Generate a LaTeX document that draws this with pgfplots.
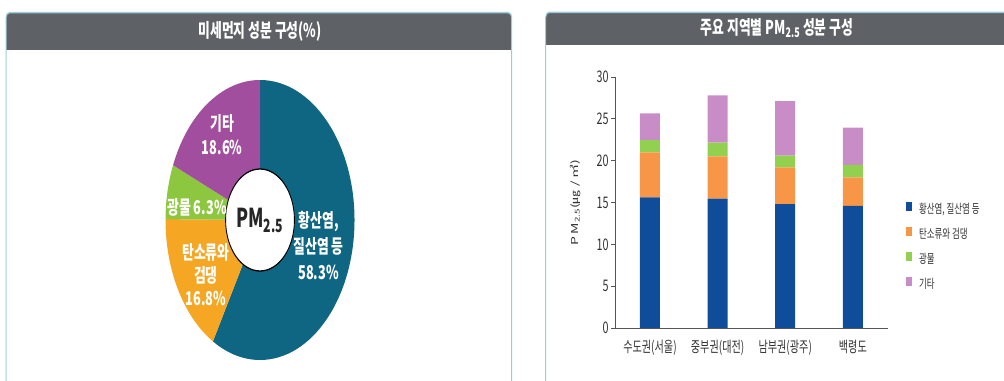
\documentclass[border=0pt]{standalone}
\usepackage{pgfplots}
\pgfplotsset{compat=1.18}
\usepackage{fontspec}
\setmainfont{Noto Sans CJK KR}
\definecolor{hdr}{HTML}{5E6266}
\definecolor{bord}{HTML}{9FCBD8}
\definecolor{dteal}{HTML}{0E6682}
\definecolor{dorange}{HTML}{F5A623}
\definecolor{dgreen}{HTML}{8DC63F}
\definecolor{dpurple}{HTML}{A24E9E}
\definecolor{bblue}{HTML}{0F4C9A}
\definecolor{borange}{HTML}{F79646}
\definecolor{bgreen}{HTML}{92D050}
\definecolor{bpurple}{HTML}{C88DC7}
\definecolor{axgray}{HTML}{555555}
\definecolor{txt}{HTML}{333333}
\begin{document}
\begin{tikzpicture}
\path[use as bounding box] (0,0) rectangle (1004bp,381bp);
% donut shares (percent)
\def\vA{58.3}\def\vB{16.8}\def\vC{6.3}\def\vD{18.6}
\pgfmathsetmacro\aA{90}
\pgfmathsetmacro\aB{\aA-3.6*\vA}
\pgfmathsetmacro\aC{\aB-3.6*\vB}
\pgfmathsetmacro\aD{\aC-3.6*\vC}
\pgfmathsetmacro\aE{\aD-3.6*\vD}
\begin{scope}[transform canvas={xscale=0.675}]
% ---- left panel
\fill[hdr, rounded corners=5bp] (8.9bp,331bp) rectangle (758.1bp,368.3bp);
\fill[hdr] (8.9bp,331bp) rectangle (758.1bp,345bp);
\draw[bord, line width=1.5bp, rounded corners=5bp] (8.9bp,-10bp) -- (8.9bp,368.3bp) -- (758.1bp,368.3bp) -- (758.1bp,-10bp);
\node[text=white, font=\bfseries\fontsize{19bp}{22bp}\selectfont] at (385.2bp,350bp) {미세먼지 성분 구성(\%)};
% ---- right panel
\fill[hdr, rounded corners=5bp] (808.4bp,336bp) rectangle (1520bp,368.7bp);
\fill[hdr] (808.4bp,336bp) rectangle (1520bp,350bp);
\draw[bord, line width=1.5bp, rounded corners=5bp] (808.4bp,-10bp) -- (808.4bp,368.7bp) -- (1520bp,368.7bp);
\node[text=white, font=\bfseries\fontsize{19bp}{22bp}\selectfont] at (1151bp,352.5bp) {주요 지역별 PM\textsubscript{2.5} 성분 구성};

% ---- donut
\begin{axis}[at={(385.2bp,161bp)}, anchor=origin, x=140bp, y=140bp,
  xmin=-1.1, xmax=1.1, ymin=-1.1, ymax=1.1, hide axis, clip=false]
\fill[dteal] (axis cs:0,0) -- ++(\aA:140bp) arc[start angle=\aA, end angle=\aB, radius=140bp] -- cycle;
\fill[dorange] (axis cs:0,0) -- ++(\aB:140bp) arc[start angle=\aB, end angle=\aC, radius=140bp] -- cycle;
\fill[dgreen] (axis cs:0,0) -- ++(\aC:140bp) arc[start angle=\aC, end angle=\aD, radius=140bp] -- cycle;
\fill[dpurple] (axis cs:0,0) -- ++(\aD:140bp) arc[start angle=\aD, end angle=\aE, radius=140bp] -- cycle;
\draw[black, line width=1.3bp, fill=white] (axis cs:0,0) circle[radius=51bp];
\node[text=black!85, font=\bfseries\fontsize{26bp}{28bp}\selectfont] at (axis cs:0,0) {PM\textsubscript{2.5}};
\node[text=white, font=\bfseries\fontsize{19bp}{24bp}\selectfont, align=center] at (axis cs:-0.40,0.61) {기타\\18.6\%};
\node[text=white, font=\bfseries\fontsize{19bp}{24bp}\selectfont] at (axis cs:-0.666,0.093) {광물 6.3\%};
\node[text=white, font=\bfseries\fontsize{19bp}{23bp}\selectfont, align=center] at (axis cs:-0.573,-0.393) {탄소류와\\검댕\\16.8\%};
\node[text=white, font=\bfseries\fontsize{19bp}{26bp}\selectfont, align=center] at (axis cs:0.62,-0.18) {황산염,\\질산염 등\\58.3\%};
\end{axis}

% ---- stacked bars
\begin{axis}[at={(962.9bp,53bp)}, anchor=origin,
  x=100.2bp, y=8.367bp,
  xmin=-0.516, xmax=3.52, ymin=0, ymax=30,
  ybar stacked, bar width=29.6bp,
  axis x line*=bottom, axis y line*=left,
  axis line style={draw=axgray, line width=0.8bp},
  xtick={0,1,2,3},
  xticklabels={수도권(서울),중부권(대전),남부권(광주),백령도},
  xtick style={draw=none},
  xticklabel style={font=\fontsize{15bp}{17bp}\selectfont, text=txt, yshift=-3bp},
  ytick={0,5,...,30},
  tick align=outside, major tick length=6bp,
  ytick style={draw=axgray, line width=0.8bp},
  yticklabel style={font=\fontsize{16bp}{18bp}\selectfont, text=txt},
  /pgf/number format/assume math mode=true,
  ylabel={P\,M\textsubscript{2.5}(㎍ / ㎥)},
  ylabel style={at={(axis description cs:-0.146,0.5)}, anchor=center, font=\fontsize{14bp}{16bp}\selectfont, text=txt},
  legend style={draw=none, fill=none, at={(axis description cs:1.058,0.51)}, anchor=north west,
    font=\fontsize{12.5bp}{14bp}\selectfont, text=txt, row sep=10bp,
    nodes={inner sep=1bp, text height=9bp, text depth=3bp},
    /tikz/every odd column/.append style={column sep=10bp}},
  legend cell align=left,
  legend image code/.code={\fill[#1] (0bp,-1bp) rectangle (8.5bp,8bp);},
]
\addplot[fill=bblue, draw=none] coordinates {(0,15.6) (1,15.45) (2,14.8) (3,14.6)};
\addplot[fill=borange, draw=none] coordinates {(0,5.4) (1,5.05) (2,4.4) (3,3.4)};
\addplot[fill=bgreen, draw=none] coordinates {(0,1.45) (1,1.65) (2,1.4) (3,1.5)};
\addplot[fill=bpurple, draw=none] coordinates {(0,3.2) (1,5.65) (2,6.5) (3,4.45)};
\legend{{황산염, 질산염 등}, 탄소류와 검댕, 광물, 기타}
\end{axis}
\end{scope}
\end{tikzpicture}
\end{document}
